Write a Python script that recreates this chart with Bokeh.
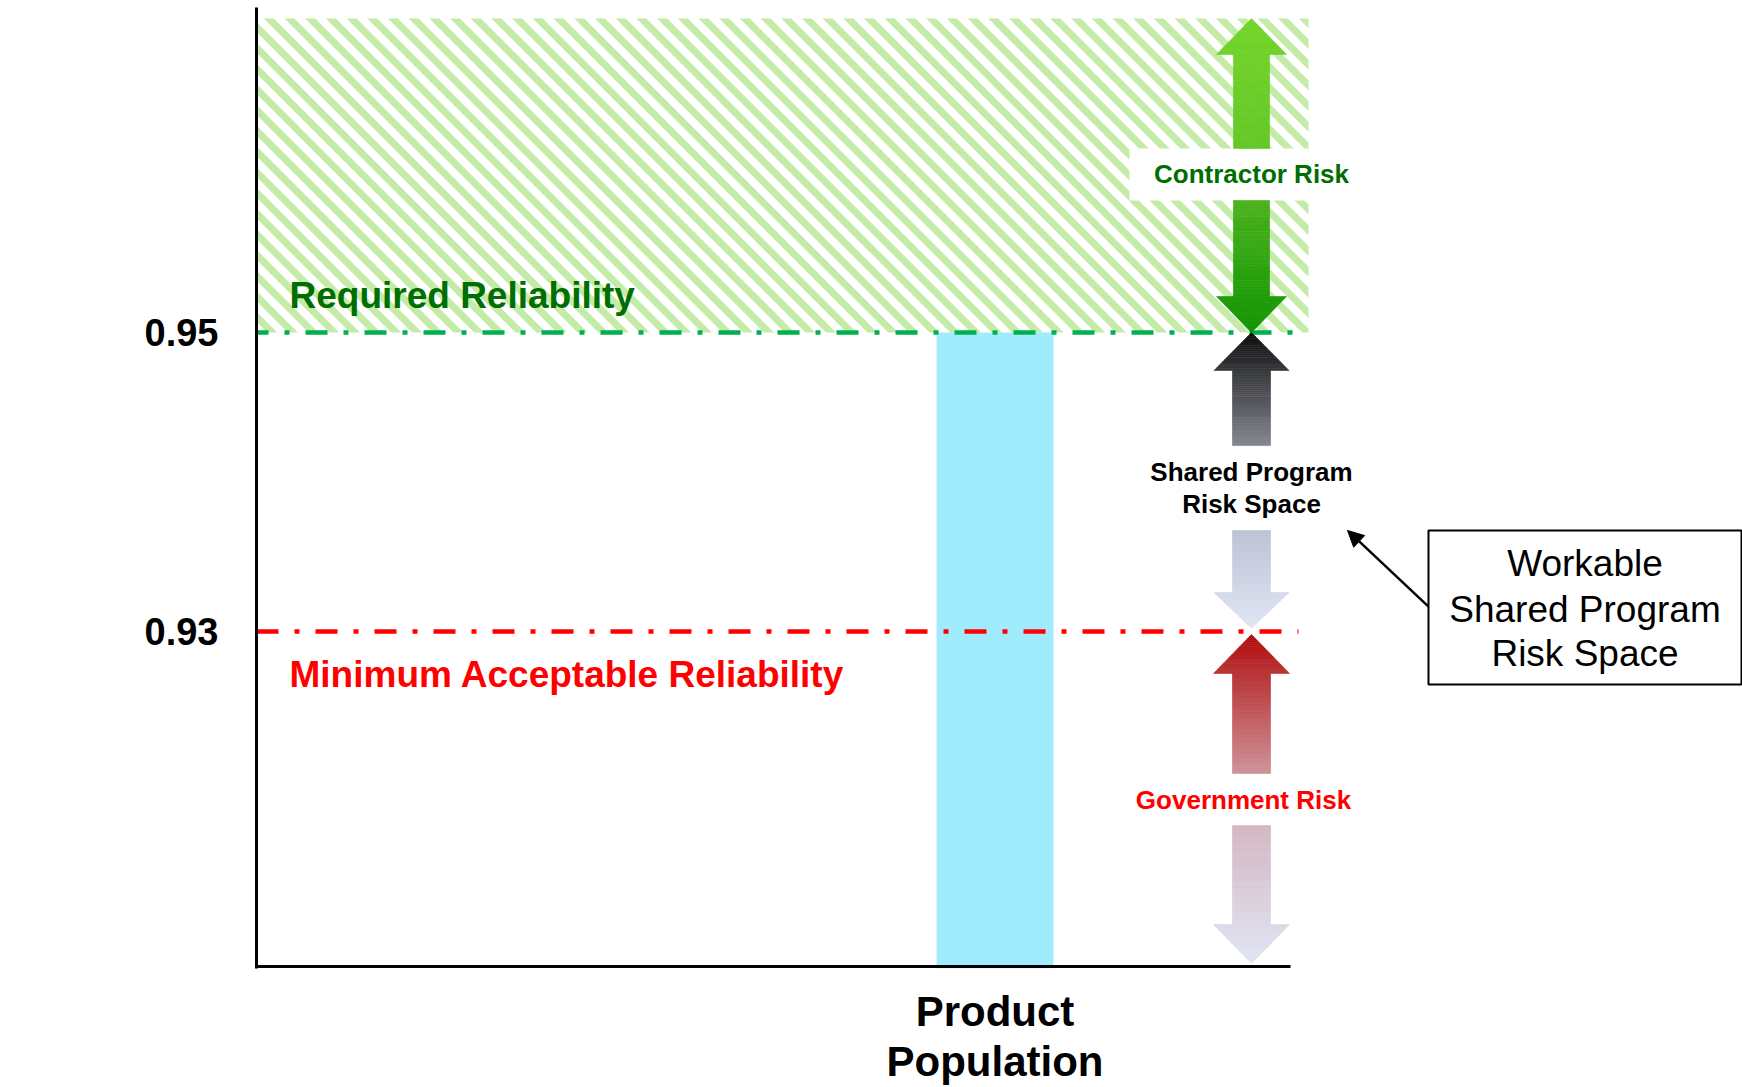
import numpy as np
from bokeh.plotting import figure
from bokeh.models import FixedTicker, Label, Arrow, NormalHead
from bokeh.embed import file_html
from bokeh.resources import INLINE
from bokeh.core.properties import value

# ---------------- data ----------------
y_ticks = [0.93, 0.95]
y_tick_labels = ["0.93", "0.95"]
required_reliability = 0.95
minimum_reliability = 0.93
y_min, y_max = 0.90746, 0.97174
x_min, x_max = 0.0, 14.86
x_axis_y = 0.90759
x_axis_end = 10.34
region_top = 0.9710
region_right = 10.52
line_end = 10.42

population_x = [7.385]
population_label = ["Product\nPopulation"]
bar_left = [6.80]
bar_right = [7.97]
bar_top = [0.95]

risk_x = 9.95
arrow_names = ["contractor_up", "contractor_down", "shared_up",
               "shared_down", "government_up", "government_down"]
arrow_tail = [0.96231, 0.95883, 0.94244, 0.93676, 0.92050, 0.91702]
arrow_headbase = [0.96860, 0.95241, 0.94746, 0.93261, 0.92719, 0.91040]
arrow_tip = [0.97100, 0.95000, 0.95000, 0.93020, 0.92980, 0.90779]

contractor_box = dict(left=8.73, right=10.52, bottom=0.95883, top=0.96231)
risk_labels = ["Contractor Risk", "Shared Program", "Risk Space", "Government Risk"]
risk_label_x = [9.95, 9.95, 9.95, 9.87]
risk_label_y = [0.96057, 0.94064, 0.93856, 0.91870]

threshold_labels = ["Required Reliability", "Minimum Acceptable Reliability"]
threshold_label_x = [0.33, 0.33]
threshold_label_y = [0.95247, 0.92713]

workable_box = dict(left=11.72, right=14.85, top=0.93676, bottom=0.92646)
workable_lines = ["Workable", "Shared Program", "Risk Space"]
workable_y = [0.93455, 0.93147, 0.92853]
pointer_start = (11.72, 0.93167)
pointer_end = (10.91, 0.93676)

# ---------------- styles ----------------
FONT = "Liberation Sans"
FIG_W, FIG_H = 1742, 1087
BORDER_L, BORDER_T, BORDER_B = 256, 7, 119
arrow_head_half = [0.35, 0.35, 0.375, 0.375, 0.38, 0.38]
arrow_shaft_half = [0.18, 0.18, 0.19, 0.19, 0.19, 0.19]
arrow_colors = [("#74d52a", "#62c826"), ("#4cb21e", "#0f9400"),
                ("#0f0f0f", "#83868f"), ("#bcc3d3", "#dfe5f3"),
                ("#b00c0c", "#cc9298"), ("#d3b6c3", "#e0e6f4")]
hatch_color = "#c4eca8"
hatch_period_px = 20.7      # horizontal distance between stripes
hatch_band_px = 10.0        # horizontal width of a stripe

px_per_x = (FIG_W - BORDER_L) / (x_max - x_min)
px_per_y = (FIG_H - BORDER_T - BORDER_B) / (y_max - y_min)


def hex2rgb(h):
    h = h.lstrip("#")
    return np.array([int(h[i:i + 2], 16) for i in (0, 2, 4)], dtype=float)


def rgb2hex(c):
    return "#%02x%02x%02x" % tuple(int(round(v)) for v in c)


def clip_half(poly, f):
    out = []
    n = len(poly)
    for i in range(n):
        P, Q = poly[i], poly[(i + 1) % n]
        fp, fq = f(P), f(Q)
        if fp >= 0:
            out.append(P)
        if (fp >= 0) != (fq >= 0):
            t = fp / (fp - fq)
            out.append((P[0] + t * (Q[0] - P[0]), P[1] + t * (Q[1] - P[1])))
    return out


p = figure(width=FIG_W, height=FIG_H, x_range=(x_min, x_max), y_range=(y_min, y_max),
           output_backend="svg", toolbar_location=None,
           min_border_left=BORDER_L, min_border_right=0, min_border_top=BORDER_T,
           min_border_bottom=BORDER_B)
p.xgrid.visible = False
p.ygrid.visible = False
p.outline_line_color = None
p.background_fill_color = "white"
p.border_fill_color = "white"

# y axis
p.yaxis.ticker = FixedTicker(ticks=y_ticks)
p.yaxis.major_label_overrides = {t: s for t, s in zip(y_ticks, y_tick_labels)}
p.yaxis.axis_line_width = 3
p.yaxis.axis_line_color = "black"
p.yaxis.major_tick_line_color = None
p.yaxis.minor_tick_line_color = None
p.yaxis.major_tick_out = 0
p.yaxis.major_tick_in = 0
p.yaxis.major_label_text_font = FONT
p.yaxis.major_label_text_font_style = "bold"
p.yaxis.major_label_text_font_size = "38px"
p.yaxis.major_label_text_color = "black"
p.yaxis.major_label_standoff = 38

# x axis (labels only; baseline drawn as segment)
p.xaxis.ticker = FixedTicker(ticks=population_x)
p.xaxis.major_label_overrides = {t: s for t, s in zip(population_x, population_label)}
p.xaxis.axis_line_color = None
p.xaxis.major_tick_line_color = None
p.xaxis.minor_tick_line_color = None
p.xaxis.major_tick_out = 0
p.xaxis.major_tick_in = 0
p.xaxis.major_label_text_font = FONT
p.xaxis.major_label_text_font_style = "bold"
p.xaxis.major_label_text_font_size = "42px"
p.xaxis.major_label_text_color = "black"
p.xaxis.major_label_text_line_height = 1.07
p.xaxis.major_label_standoff = 19

# hatched required region: 45-degree stripes clipped to the region
W_px = (region_right - x_min) * px_per_x
H_px = (region_top - required_reliability) * px_per_y
rect = [(0.0, 0.0), (W_px, 0.0), (W_px, H_px), (0.0, H_px)]
hx, hy = [], []
c = -hatch_band_px
while c < W_px + H_px:
    poly = clip_half(rect, lambda P, c=c: P[0] + P[1] - c)
    poly = clip_half(poly, lambda P, c=c: c + hatch_band_px - (P[0] + P[1]))
    if len(poly) >= 3:
        hx.append([x_min + q[0] / px_per_x for q in poly])
        hy.append([required_reliability + q[1] / px_per_y for q in poly])
    c += hatch_period_px
p.patches(xs=hx, ys=hy, fill_color=hatch_color, line_color=None)

# white box behind "Contractor Risk"
p.quad(left=[contractor_box["left"]], right=[contractor_box["right"]],
       bottom=[contractor_box["bottom"]], top=[contractor_box["top"]],
       fill_color="white", line_color=None)

# product population bar
p.quad(left=bar_left, right=bar_right, bottom=[y_min] * len(bar_left), top=bar_top,
       fill_color="#a0ecfc", line_color=None)

# threshold lines
p.segment(x0=[x_min], y0=[required_reliability], x1=[line_end], y1=[required_reliability],
          line_color="#00b050", line_width=4.5, line_dash="22 16 5 16", line_dash_offset=10)
p.segment(x0=[x_min], y0=[minimum_reliability], x1=[line_end], y1=[minimum_reliability],
          line_color="#ff0000", line_width=4.5, line_dash="22 16 5 16", line_dash_offset=0)

# x axis baseline
p.segment(x0=[x_min], y0=[x_axis_y], x1=[x_axis_end], y1=[x_axis_y],
          line_color="black", line_width=3)

# gradient arrows
xs_all, ys_all, cols_all = [], [], []
for i in range(len(arrow_names)):
    tail, base, tip = arrow_tail[i], arrow_headbase[i], arrow_tip[i]
    hh, sh = arrow_head_half[i], arrow_shaft_half[i]
    c_top, c_bot = hex2rgb(arrow_colors[i][0]), hex2rgb(arrow_colors[i][1])
    y_top, y_bot = max(tail, tip), min(tail, tip)
    shaft_b = np.linspace(tail, base, max(int(abs(base - tail) * px_per_y / 2), 2) + 1)
    head_b = np.linspace(base, tip, max(int(abs(tip - base) * px_per_y / 2), 2) + 1)
    for bounds, is_head in ((shaft_b, False), (head_b, True)):
        for a, b in zip(bounds[:-1], bounds[1:]):
            if is_head:
                wa = hh * (tip - a) / (tip - base)
                wb = hh * (tip - b) / (tip - base)
            else:
                wa = wb = sh
            mid = 0.5 * (a + b)
            f = (y_top - mid) / (y_top - y_bot)
            col = rgb2hex(c_top + (c_bot - c_top) * f)
            xs_all.append([risk_x - wa, risk_x + wa, risk_x + wb, risk_x - wb])
            ys_all.append([a, a, b, b])
            cols_all.append(col)
p.patches(xs=xs_all, ys=ys_all, fill_color=cols_all, line_color=cols_all, line_width=0.6)

# risk labels
p.text(x=risk_label_x, y=risk_label_y, text=risk_labels,
       text_color=["#006e00", "black", "black", "#ff0000"],
       text_font=value(FONT), text_font_style="bold", text_font_size="26px",
       text_align="center", text_baseline="middle")

# threshold labels
p.text(x=threshold_label_x, y=threshold_label_y, text=threshold_labels,
       text_color=["#006e00", "#ff0000"], text_font=value(FONT), text_font_style="bold",
       text_font_size="37px", text_align="left", text_baseline="middle")

# workable box
p.quad(left=[workable_box["left"]], right=[workable_box["right"]],
       bottom=[workable_box["bottom"]], top=[workable_box["top"]],
       fill_color="white", line_color="black", line_width=2)
p.text(x=[0.5 * (workable_box["left"] + workable_box["right"])] * 3, y=workable_y,
       text=workable_lines, text_color="black", text_font=value(FONT),
       text_font_size="37px", text_align="center", text_baseline="middle")
p.add_layout(Arrow(end=NormalHead(size=16, fill_color="black", line_color="black"),
                   x_start=pointer_start[0], y_start=pointer_start[1],
                   x_end=pointer_end[0], y_end=pointer_end[1],
                   line_color="black", line_width=2.5))

# axis title
p.add_layout(Label(x=-2.43, y=0.9407, text="Reliability", text_font=FONT,
                   text_font_style="bold", text_font_size="36px", text_color="black",
                   text_baseline="middle", text_align="left"))

open("out.html", "w").write(file_html(p, INLINE))
